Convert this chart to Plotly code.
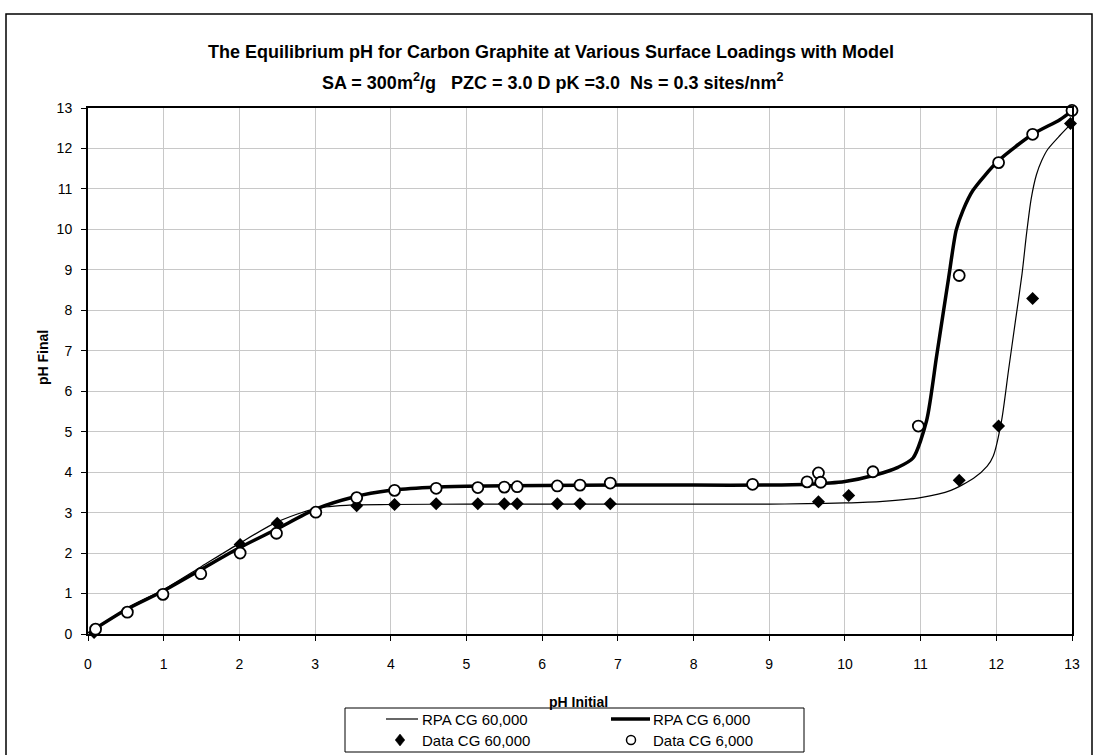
import plotly.graph_objects as go

# ---- Measured equilibrium pH, carbon graphite loading 6,000 ----
data6000_ph_initial = [0.10, 0.52, 0.99, 1.49, 2.01, 2.49, 3.01, 3.55, 4.05, 4.60,
                       5.15, 5.50, 5.67, 6.20, 6.50, 6.90, 8.78, 9.50, 9.65, 9.68,
                       10.37, 10.97, 11.51, 12.03, 12.48, 13.00]
data6000_ph_final = [0.12, 0.54, 0.98, 1.49, 2.00, 2.49, 3.01, 3.37, 3.55, 3.60,
                     3.62, 3.63, 3.64, 3.66, 3.68, 3.73, 3.70, 3.76, 3.98, 3.75,
                     4.01, 5.14, 8.86, 11.65, 12.35, 12.94]

# ---- Measured equilibrium pH, carbon graphite loading 60,000 ----
data60000_ph_initial = [0.08, 2.01, 2.50, 3.55, 4.05, 4.60, 5.15, 5.50, 5.67, 6.20,
                        6.50, 6.90, 9.65, 10.05, 11.51, 12.03, 12.48, 12.98]
data60000_ph_final = [0.04, 2.21, 2.74, 3.17, 3.20, 3.22, 3.22, 3.22, 3.22, 3.22,
                      3.22, 3.22, 3.27, 3.42, 3.80, 5.14, 8.29, 12.62]

# ---- RPA model curve, loading 6,000 ----
rpa6000_ph_initial = [0.05, 0.50, 1.00, 1.50, 2.00, 2.50, 3.00, 3.50, 4.00, 4.50,
                      5.00, 6.00, 7.00, 8.00, 9.00, 9.50, 10.00, 10.40, 10.70, 10.90,
                      11.08, 11.21, 11.30, 11.37, 11.47, 11.56, 11.69, 12.03, 12.48,
                      12.84, 13.00]
rpa6000_ph_final = [0.08, 0.60, 1.07, 1.60, 2.13, 2.60, 3.08, 3.38, 3.55, 3.62,
                    3.65, 3.67, 3.68, 3.68, 3.68, 3.70, 3.77, 3.93, 4.12, 4.35,
                    5.28, 6.85, 7.95, 8.80, 9.98, 10.47, 10.96, 11.70, 12.35,
                    12.71, 12.93]

# ---- RPA model curve, loading 60,000 ----
rpa60000_ph_initial = [0.05, 0.50, 1.00, 1.50, 2.00, 2.50, 3.00, 3.50, 4.00, 5.00,
                       7.00, 9.00, 9.50, 10.00, 10.50, 11.00, 11.40, 11.70, 11.88,
                       11.96, 12.07, 12.16, 12.25, 12.34, 12.40, 12.46, 12.53, 12.60,
                       12.68, 12.84, 13.00]
rpa60000_ph_final = [0.06, 0.62, 1.10, 1.67, 2.24, 2.77, 3.10, 3.19, 3.20, 3.21,
                     3.21, 3.21, 3.22, 3.24, 3.28, 3.37, 3.55, 3.85, 4.15,
                     4.40, 5.28, 6.50, 7.70, 8.90, 9.90, 10.75, 11.35, 11.70,
                     11.98, 12.32, 12.63]

axis_ticks = list(range(0, 14))

FONT = "Arial, 'Liberation Sans', sans-serif"

fig = go.Figure()

fig.add_trace(go.Scatter(
    x=rpa60000_ph_initial, y=rpa60000_ph_final, mode="lines",
    line=dict(color="black", width=1.2, shape="spline", smoothing=0.7),
    name="RPA CG 60,000", cliponaxis=False, showlegend=False))
fig.add_trace(go.Scatter(
    x=rpa6000_ph_initial, y=rpa6000_ph_final, mode="lines",
    line=dict(color="black", width=3.5, shape="spline", smoothing=0.7),
    name="RPA CG 6,000", cliponaxis=False, showlegend=False))
fig.add_trace(go.Scatter(
    x=data60000_ph_initial, y=data60000_ph_final, mode="markers",
    marker=dict(symbol="diamond", size=10, color="black"),
    name="Data CG 60,000", cliponaxis=False, showlegend=False))
fig.add_trace(go.Scatter(
    x=data6000_ph_initial, y=data6000_ph_final, mode="markers",
    marker=dict(symbol="circle", size=11, color="white",
                line=dict(color="black", width=1.8)),
    name="Data CG 6,000", cliponaxis=False, showlegend=False))

# plot-area geometry in pixels
L, T, W, H = 88, 108, 984, 526


def fx(px):
    return (px - L) / W


def fy(py):
    return (T + H - py) / H


axis_style = dict(
    range=[0, 13], tickvals=axis_ticks, ticktext=[str(t) for t in axis_ticks],
    showgrid=True, gridcolor="rgb(200,200,200)", gridwidth=1,
    showline=True, linecolor="black", linewidth=2, mirror=True,
    ticks="outside", ticklen=5, tickwidth=1, tickcolor="black",
    tickfont=dict(family=FONT, size=14, color="black"),
    zeroline=False, fixedrange=True,
)

shapes = []
annotations = []

# chart frame
shapes.append(dict(type="rect", xref="paper", yref="paper",
                   x0=fx(6), x1=fx(1092), y0=fy(770), y1=fy(14),
                   line=dict(color="black", width=1.5), fillcolor="rgba(0,0,0,0)",
                   layer="below"))

# titles
annotations.append(dict(
    text="<b>The Equilibrium pH for Carbon Graphite at Various Surface Loadings with Model</b>",
    xref="paper", yref="paper", x=fx(551), y=fy(52), showarrow=False,
    xanchor="center", yanchor="middle", font=dict(family=FONT, size=18, color="black")))
annotations.append(dict(
    text="<b>SA = 300m<sup>2</sup>/g   PZC = 3.0 D pK =3.0  Ns = 0.3 sites/nm<sup>2</sup></b>",
    xref="paper", yref="paper", x=fx(553), y=fy(81), showarrow=False,
    xanchor="center", yanchor="middle", font=dict(family=FONT, size=18, color="black")))
annotations.append(dict(
    text="<b>pH Final</b>", textangle=-90,
    xref="paper", yref="paper", x=fx(43), y=fy(358), showarrow=False,
    xanchor="center", yanchor="middle", font=dict(family=FONT, size=14, color="black")))
annotations.append(dict(
    text="<b>pH Initial</b>",
    xref="paper", yref="paper", x=fx(578), y=fy(702), showarrow=False,
    xanchor="center", yanchor="middle", font=dict(family=FONT, size=14, color="black")))

# legend box and keys
box = dict(x0=345, x1=804, y0=708, y1=752)
shapes.append(dict(type="rect", xref="paper", yref="paper",
                   x0=fx(box["x0"]), x1=fx(box["x1"]), y0=fy(box["y1"]), y1=fy(box["y0"]),
                   line=dict(color="black", width=1), fillcolor="white"))
row1, row2 = 719, 740
col1_key, col2_key = (386, 418), (611, 650)
shapes.append(dict(type="line", xref="paper", yref="paper",
                   x0=fx(col1_key[0]), x1=fx(col1_key[1]), y0=fy(row1), y1=fy(row1),
                   line=dict(color="black", width=1.2)))
shapes.append(dict(type="line", xref="paper", yref="paper",
                   x0=fx(col2_key[0]), x1=fx(col2_key[1]), y0=fy(row1), y1=fy(row1),
                   line=dict(color="black", width=3.5)))
dcx, r = 400, 6
shapes.append(dict(type="path", xref="paper", yref="paper",
                   path=(f"M {fx(dcx)},{fy(row2 - r)} L {fx(dcx + r * 0.8)},{fy(row2)} "
                         f"L {fx(dcx)},{fy(row2 + r)} L {fx(dcx - r * 0.8)},{fy(row2)} Z"),
                   fillcolor="black", line=dict(color="black", width=0.5)))
ccx, cr = 631, 4.5
shapes.append(dict(type="circle", xref="paper", yref="paper",
                   x0=fx(ccx - cr), x1=fx(ccx + cr), y0=fy(row2 + cr), y1=fy(row2 - cr),
                   fillcolor="white", line=dict(color="black", width=1.5)))

legend_labels = [("RPA CG 60,000", 420, row1), ("RPA CG 6,000", 651, row1),
                 ("Data CG 60,000", 420, row2), ("Data CG 6,000", 651, row2)]
for text, lx, ly in legend_labels:
    annotations.append(dict(text=text, xref="paper", yref="paper", x=fx(lx), y=fy(ly),
                            showarrow=False, xanchor="left", yanchor="middle",
                            font=dict(family=FONT, size=15, color="black")))

fig.update_layout(
    width=1095, height=755,
    margin=dict(l=L, r=1095 - L - W, t=T, b=755 - T - H, pad=0),
    paper_bgcolor="white", plot_bgcolor="white",
    xaxis=dict(axis_style, ticklabelstandoff=11),
    yaxis=dict(axis_style, ticklabelstandoff=6),
    shapes=shapes, annotations=annotations,
    showlegend=False,
)

fig.write_html("out.html")
